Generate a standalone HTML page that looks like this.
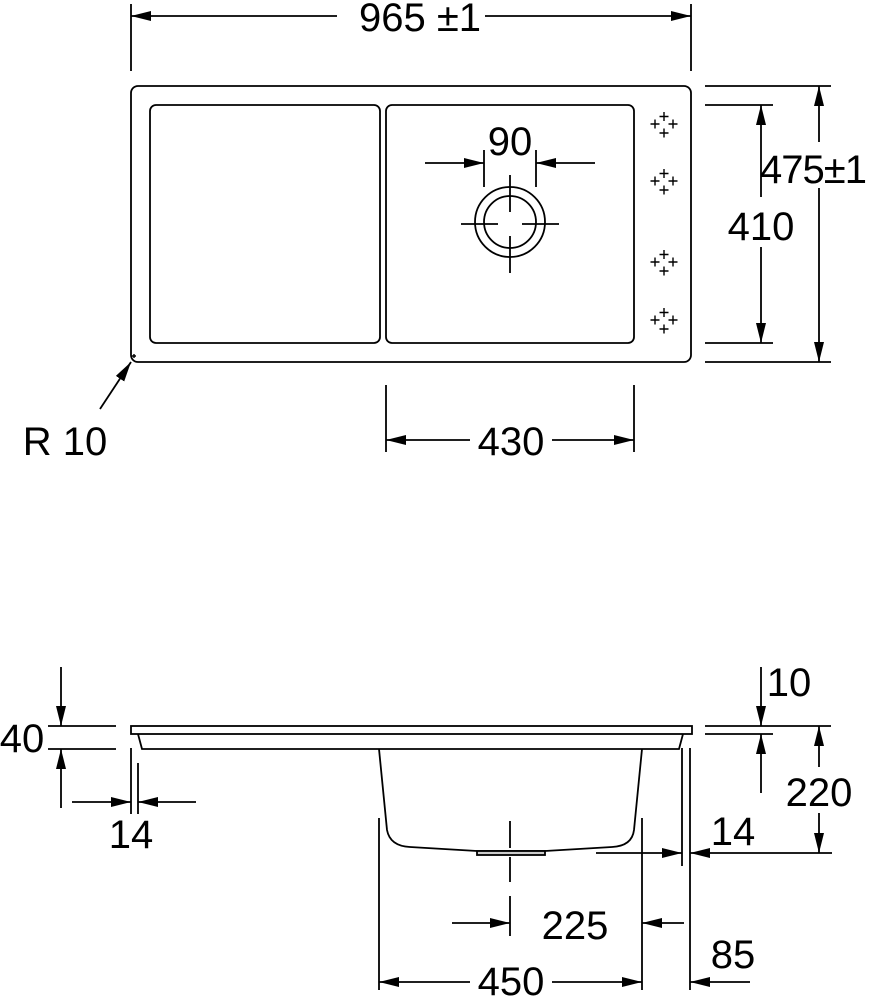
<!DOCTYPE html>
<html><head><meta charset="utf-8"><style>
html,body{margin:0;padding:0;background:#fff;}
svg{display:block;}
text{font-family:"Liberation Sans",Arial,sans-serif;font-size:40px;fill:#000;}
</style></head><body>
<svg width="870" height="998" viewBox="0 0 870 998" xmlns="http://www.w3.org/2000/svg">
<defs>
<marker id="a" viewBox="0 0 20 10" refX="20" refY="5" markerWidth="20" markerHeight="10" markerUnits="userSpaceOnUse" orient="auto">
<path d="M0,0 L20,5 L0,10 Z" fill="#000"/>
</marker>
</defs>
<g stroke="#000" stroke-width="1.8" fill="none">
<rect x="131" y="86" width="560" height="276" rx="7"/>
<rect x="150" y="105" width="230" height="238" rx="6"/>
<rect x="386" y="105" width="248" height="238" rx="6"/>
<circle cx="510" cy="222" r="35"/>
<circle cx="510" cy="222" r="26"/>
<line x1="510" y1="175" x2="510" y2="212"/>
<line x1="510" y1="236" x2="510" y2="273"/>
<line x1="461" y1="224" x2="498" y2="224"/>
<line x1="522" y1="224" x2="559" y2="224"/>
<line x1="484" y1="150" x2="484" y2="187"/>
<line x1="536" y1="150" x2="536" y2="187"/>
<line x1="425" y1="163" x2="484" y2="163" marker-end="url(#a)"/>
<line x1="595" y1="163" x2="536" y2="163" marker-end="url(#a)"/>
<g stroke-width="1.4">
<path d="M664,112v9M659.5,116.5h9 M655,119.5v9M650.5,124h9 M673,119.5v9M668.5,124h9 M664,128.5v9M659.5,133h9"/>
<path d="M664,169v9M659.5,173.5h9 M655,176.5v9M650.5,181h9 M673,176.5v9M668.5,181h9 M664,185.5v9M659.5,190h9"/>
<path d="M664,250v9M659.5,254.5h9 M655,257.5v9M650.5,262h9 M673,257.5v9M668.5,262h9 M664,266.5v9M659.5,271h9"/>
<path d="M664,308v9M659.5,312.5h9 M655,315.5v9M650.5,320h9 M673,315.5v9M668.5,320h9 M664,324.5v9M659.5,329h9"/>
<path d="M134,354v4M132,356h4"/>
</g>
<line x1="131" y1="4" x2="131" y2="71"/>
<line x1="691" y1="4" x2="691" y2="71"/>
<line x1="337" y1="16" x2="131" y2="16" marker-end="url(#a)"/>
<line x1="485" y1="16" x2="691" y2="16" marker-end="url(#a)"/>
<line x1="705" y1="86" x2="831" y2="86"/>
<line x1="705" y1="362" x2="831" y2="362"/>
<line x1="705" y1="105" x2="773" y2="105"/>
<line x1="705" y1="343" x2="773" y2="343"/>
<line x1="819" y1="142" x2="819" y2="86" marker-end="url(#a)"/>
<line x1="819" y1="188" x2="819" y2="362" marker-end="url(#a)"/>
<line x1="761" y1="197" x2="761" y2="105" marker-end="url(#a)"/>
<line x1="761" y1="247" x2="761" y2="343" marker-end="url(#a)"/>
<line x1="100" y1="409" x2="131" y2="362" marker-end="url(#a)"/>
<line x1="386" y1="385" x2="386" y2="452"/>
<line x1="634" y1="385" x2="634" y2="452"/>
<line x1="470" y1="440" x2="386" y2="440" marker-end="url(#a)"/>
<line x1="552" y1="440" x2="634" y2="440" marker-end="url(#a)"/>

<rect x="131" y="726" width="561" height="8"/>
<path d="M138,734 L142,749 L679,749 L683,734"/>
<path d="M379,749 L387,830 Q390,846 410,847 L477,851 L545,851 L612,847 Q632,846 634,830 L642,749"/>
<rect x="477" y="851" width="68" height="4" fill="#ccc"/>
<line x1="48" y1="726" x2="116" y2="726"/>
<line x1="48" y1="749" x2="116" y2="749"/>
<line x1="61" y1="667" x2="61" y2="726" marker-end="url(#a)"/>
<line x1="61" y1="808" x2="61" y2="749" marker-end="url(#a)"/>
<line x1="131" y1="748" x2="131" y2="814"/>
<line x1="138" y1="763" x2="138" y2="814"/>
<line x1="72" y1="802" x2="131" y2="802" marker-end="url(#a)"/>
<line x1="196" y1="802" x2="138" y2="802" marker-end="url(#a)"/>
<line x1="705" y1="726" x2="831" y2="726"/>
<line x1="705" y1="734" x2="773" y2="734"/>
<line x1="761" y1="667" x2="761" y2="726" marker-end="url(#a)"/>
<line x1="761" y1="793" x2="761" y2="734" marker-end="url(#a)"/>
<line x1="819" y1="767" x2="819" y2="726" marker-end="url(#a)"/>
<line x1="819" y1="813" x2="819" y2="853" marker-end="url(#a)"/>
<line x1="682" y1="748" x2="682" y2="866"/>
<line x1="690" y1="748" x2="690" y2="990"/>
<line x1="596" y1="853" x2="682" y2="853" marker-end="url(#a)"/>
<line x1="832" y1="853" x2="690" y2="853" marker-end="url(#a)"/>
<line x1="379" y1="818" x2="379" y2="990"/>
<line x1="642" y1="818" x2="642" y2="990"/>
<path d="M510,821v27M510,857v25M510,896v40"/>
<line x1="452" y1="923" x2="510" y2="923" marker-end="url(#a)"/>
<line x1="684" y1="923" x2="642" y2="923" marker-end="url(#a)"/>
<line x1="470" y1="982" x2="379" y2="982" marker-end="url(#a)"/>
<line x1="552" y1="982" x2="642" y2="982" marker-end="url(#a)"/>
<line x1="750" y1="982" x2="690" y2="982" marker-end="url(#a)"/>
</g>
<text x="420" y="31" text-anchor="middle">965 ±1</text>
<text x="510" y="155" text-anchor="middle">90</text>
<text x="813" y="183" text-anchor="middle" letter-spacing="-1">475±1</text>
<text x="761" y="240" text-anchor="middle">410</text>
<text x="65" y="455" text-anchor="middle">R 10</text>
<text x="511" y="455" text-anchor="middle">430</text>
<text x="22" y="752" text-anchor="middle">40</text>
<text x="131" y="848" text-anchor="middle">14</text>
<text x="789" y="696" text-anchor="middle">10</text>
<text x="819" y="806" text-anchor="middle">220</text>
<text x="733" y="845" text-anchor="middle">14</text>
<text x="575" y="939" text-anchor="middle">225</text>
<text x="733" y="968" text-anchor="middle">85</text>
<text x="511" y="995" text-anchor="middle">450</text>
</svg>
</body></html>
